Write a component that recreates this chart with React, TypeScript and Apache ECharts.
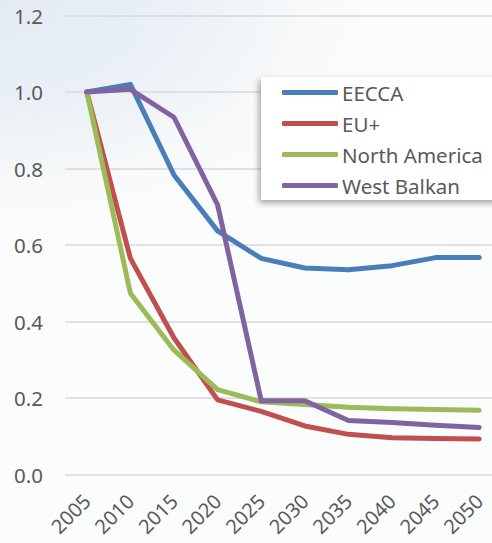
import React, { useEffect, useRef } from "react";
import * as echarts from "echarts";

// Years on the category axis
const years = ["2005", "2010", "2015", "2020", "2025", "2030", "2035", "2040", "2045", "2050"];

// Index values (2005 = 1.0) per region
const eecca = [1.0, 1.02, 0.783, 0.637, 0.565, 0.54, 0.535, 0.546, 0.567, 0.567];
const euPlus = [1.0, 0.565, 0.357, 0.195, 0.165, 0.127, 0.105, 0.096, 0.094, 0.093];
const northAmerica = [1.0, 0.474, 0.325, 0.222, 0.19, 0.183, 0.176, 0.172, 0.17, 0.168];
const westBalkan = [1.0, 1.007, 0.934, 0.705, 0.193, 0.193, 0.141, 0.136, 0.129, 0.123];

const seriesNames = ["EECCA", "EU+", "North America", "West Balkan"];
const seriesColors = ["#4a7ebb", "#c0504d", "#9bbb59", "#8064a2"];
const seriesData = [eecca, euPlus, northAmerica, westBalkan];

const FONT = "'Noto Sans', 'Open Sans', sans-serif";
const TEXT_COLOR = "#595959";

export default function App() {
  const ref = useRef<HTMLDivElement>(null);

  useEffect(() => {
    if (!ref.current) return;
    const chart = echarts.init(ref.current, null, { renderer: "svg" });
    chart.setOption({
      animation: false,
      backgroundColor: "transparent",
      textStyle: { fontFamily: FONT },
      grid: {
        left: 65,
        right: -9,
        top: 15.5,
        bottom: 68.5,
        containLabel: false,
        outerBoundsMode: "none",
      },
      legend: {
        data: seriesNames,
        orient: "vertical",
        left: 261,
        top: 77,
        padding: [5, 20, 4, 21],
        itemGap: 10,
        itemWidth: 56,
        itemHeight: 5,
        icon: "roundRect",
        backgroundColor: "#ffffff",
        shadowColor: "rgba(0,0,0,0.35)",
        shadowBlur: 6,
        shadowOffsetX: -2,
        shadowOffsetY: 3,
        textStyle: { color: TEXT_COLOR, fontSize: 20.5, fontFamily: FONT, lineHeight: 20, padding: [0, 0, 0, -1] },
      },
      xAxis: {
        type: "category",
        data: years,
        boundaryGap: true,
        axisLine: { show: false },
        axisTick: { show: false },
        axisLabel: {
          rotate: 45,
          margin: 23,
          color: TEXT_COLOR,
          fontSize: 20,
          fontFamily: FONT,
          interval: 0,
        },
      },
      yAxis: {
        type: "value",
        min: 0,
        max: 1.2,
        interval: 0.2,
        axisLine: { show: false },
        axisTick: { show: false },
        splitLine: { lineStyle: { color: "#d9d9d9", width: 1.5 } },
        axisLabel: {
          margin: 22,
          color: TEXT_COLOR,
          fontSize: 20.5,
          fontFamily: FONT,
          formatter: (v: number) => v.toFixed(1),
        },
      },
      series: seriesNames.map((name, i) => ({
        name,
        type: "line",
        data: seriesData[i],
        showSymbol: false,
        symbol: "none",
        color: seriesColors[i],
        lineStyle: { width: 5, color: seriesColors[i], cap: "round", join: "round" },
      })),
    });
    return () => chart.dispose();
  }, []);

  return (
    <div
      style={{
        position: "fixed",
        left: 0,
        top: 0,
        width: 492,
        height: 543,
        background:
          "radial-gradient(ellipse 380px 230px at 0px 0px, #e3eaf4 0%, #eaf0f6 45%, #f7f9fa 80%, #fbfcfc 100%), #fbfcfc",
      }}
    >
      <div ref={ref} style={{ width: 492, height: 543 }} />
    </div>
  );
}
